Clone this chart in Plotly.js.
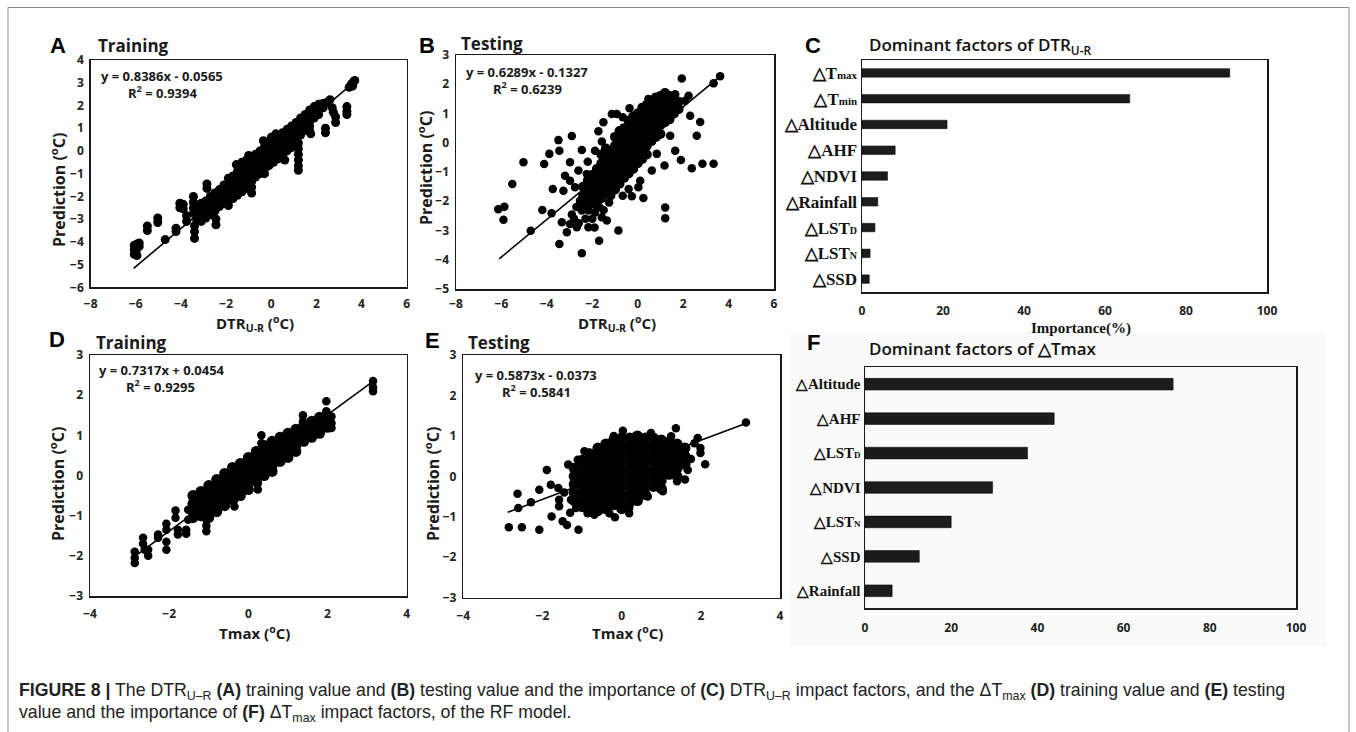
<!DOCTYPE html>
<html><head><meta charset="utf-8">
<script src="https://cdn.plot.ly/plotly-3.0.1.min.js"></script>
<style>html,body{margin:0;padding:0;background:#fff;} #chart{width:1356px;height:732px;}</style>
</head><body><div id="chart"></div>
<script>
// ---------------- DATA ----------------
// Panel A: DTR(U-R) training, columns [x, [y values observed at that x]]
const aCols = [
 [-6.07,[-4.15,-4.35,-4.55]],[-5.95,[-4.1,-4.3,-4.6]],[-5.85,[-4.05,-4.2]],
 [-5.49,[-3.3,-3.5]],[-5.03,[-2.95,-3.15]],[-4.7,[-3.9]],[-4.22,[-3.4,-3.55]],
 [-4.05,[-2.3,-2.5]],[-3.9,[-2.35,-2.55]],[-3.75,[-3.1,-2.85]],
 [-3.45,[-2.0,-2.25,-2.5,-2.75]],[-3.4,[-3.3,-3.55,-3.85]],[-3.3,[-2.5,-2.8,-3.05]],
 [-3.1,[-2.3,-2.6,-2.9,-3.1]],[-2.9,[-2.2,-2.45,-2.7,-2.95]],[-2.85,[-1.45,-1.65]],
 [-2.7,[-2.0,-2.3,-2.55,-2.8]],[-2.5,[-1.85,-2.1,-2.4,-2.65]],[-2.45,[-3.0,-3.25]],
 [-2.3,[-1.7,-1.95,-2.2,-2.45]],[-2.1,[-1.5,-1.8,-2.05,-2.3]],[-1.9,[-1.2,-1.5,-1.75,-2.0,-2.2,-2.4]],
 [-1.7,[-1.1,-1.35,-1.6,-1.85,-2.1]],[-1.55,[-0.6]],[-1.5,[-0.9,-1.2,-1.45,-1.7,-1.95]],
 [-1.3,[-0.5,-0.8,-1.05,-1.3,-1.6,-1.8]],[-1.1,[-0.4,-0.65,-0.9,-1.15,-1.4,-1.65]],[-1.0,[-0.2]],
 [-0.9,[-0.3,-0.55,-0.8,-1.05,-1.3]],[-0.87,[-1.35,-1.6,-1.85]],[-0.7,[-0.15,-0.4,-0.65,-0.9,-1.15]],
 [-0.5,[0.0,-0.25,-0.5,-0.75,-1.0]],[-0.35,[0.45]],[-0.3,[0.2,-0.05,-0.3,-0.55,-0.8,-1.0]],[-0.1,[0.35,0.1,-0.15,-0.4,-0.65]],
 [0.0,[0.6]],[0.1,[0.45,0.2,-0.05,-0.3,-0.5]],[0.2,[0.75]],[0.3,[0.6,0.35,0.1,-0.15,-0.35]],[0.5,[0.8,0.55,0.3,0.05,-0.2]],
 [0.6,[-0.4]],[0.7,[0.95,0.7,0.45,0.2,0.0]],[0.9,[1.1,0.85,0.6,0.35,0.15]],[1.1,[1.25,1.0,0.75,0.5]],
 [1.2,[0.35,0.1,-0.15,-0.4,-0.65,-0.85]],[1.3,[1.45,1.2,0.95,0.7]],[1.5,[1.6,1.35,1.1,0.9]],
 [1.7,[1.8,1.55,1.3,1.1,0.9]],[1.75,[0.75]],[1.9,[1.95,1.7,1.45]],[2.1,[2.05,1.85,1.6]],
 [2.3,[2.1,1.9]],[2.4,[1.0,0.8]],[2.5,[2.15]],[2.6,[2.25]],[2.7,[1.9]],[2.75,[1.7]],[2.85,[1.5,1.25]],
 [3.35,[1.95,1.75,1.6]],[3.45,[2.8]],[3.55,[2.95]],[3.6,[2.85]],[3.65,[3.05]],[3.7,[3.1]]
];
const aLineX = [-6.1, 3.65], aLineY = [-5.17, 3.0];

// Panel B: DTR(U-R) testing (scattered points + dense core columns)
const bPts = [
 [-6.14,-2.27],[-5.87,-2.19],[-5.91,-2.63],[-5.52,-1.41],[-5.03,-0.67],[-4.71,-3.01],[-4.2,-2.3],
 [-4.12,-0.73],[-3.89,-0.38],[-3.49,0.09],[-3.45,-0.27],[-2.9,0.23],[-2.46,-0.25],[-2.98,-0.67],
 [-3.2,-1.13],[-3.74,-1.58],[-3.79,-2.41],[-3.45,-3.46],[-2.46,-3.78],[-1.70,-3.35],[-0.85,-3.0],
 [-2.2,-0.65],[-1.73,0.39],[-1.51,0.70],[-1.14,0.98],[-0.92,0.98],[-0.66,0.87],[-0.36,1.18],
 [-0.26,0.53],[0.47,1.5],[1.94,2.2],[3.63,2.27],[3.34,2.03],[2.75,0.71],[2.6,0.24],[2.38,-0.87],
 [2.85,-0.72],[3.34,-0.72],[1.9,-0.59],[1.65,-0.27],[1.43,0.24],[1.18,-0.78],[1.21,-2.21],
 [1.21,-2.58],[0.25,-1.89],[-0.26,-1.83],[-0.66,-1.81],[-1.26,-2.04],[-1.36,-2.66],[-1.58,-2.55],
 [-2.17,-2.89],[-2.68,-2.89],[-2.98,-2.78],[-3.12,-3.06],[-3.34,-2.72],[-2.46,-2.32],[-2.17,-2.32],
 [-2.54,-1.98],[-2.02,-2.09],[-1.88,-2.38],[-2.76,-1.52],[-3.27,-1.64],[-2.98,-1.3],[-2.61,-0.95],
 [-2.24,-1.07],[-1.88,-0.27],[-1.58,0.04],[-1.36,-0.61],[0.77,0.3],[1.06,0.64],[0.84,-0.38],
 [0.62,-0.95],[0.11,-1.3],[0.03,-1.52],[-0.4,-1.58],[2.09,1.44],[2.24,1.61],[2.31,0.92],
 [1.65,1.66],[1.28,1.66],[-2.8,-2.6],[-2.6,-2.75],[-2.9,-2.45],[-2.3,-2.6],[-2.0,-2.6],[-1.9,-2.9],
 [-2.7,-2.2],[-2.4,-2.05],[-1.7,-2.2],[-1.5,-2.3]
];
const bCols = [
 [-2.4,[-1.5,-1.8,-2.1]],[-2.2,[-1.3,-1.6,-1.9,-2.2]],[-2.0,[-1.1,-1.4,-1.7,-2.0]],
 [-1.8,[-0.9,-1.2,-1.5,-1.8,-2.1]],[-1.6,[-0.4,-0.7,-1.0,-1.3,-1.6,-1.9]],
 [-1.4,[-0.2,-0.5,-0.8,-1.1,-1.4,-1.7]],[-1.2,[-0.3,-0.6,-0.9,-1.2,-1.5,-1.8]],
 [-1.0,[0.2,-0.1,-0.4,-0.7,-1.0,-1.3,-1.6]],[-0.8,[0.4,0.1,-0.2,-0.5,-0.8,-1.1,-1.4]],
 [-0.6,[0.5,0.3,0.0,-0.3,-0.6,-0.9,-1.2]],[-0.4,[0.75,0.45,0.15,-0.15,-0.45,-0.75,-1.05]],
 [-0.2,[0.9,0.6,0.3,0.0,-0.3,-0.6,-0.9]],[0.0,[1.0,0.8,0.5,0.2,-0.1,-0.4,-0.7]],
 [0.2,[1.2,0.95,0.65,0.35,0.05,-0.25,-0.55]],[0.4,[1.3,1.1,0.8,0.5,0.2,-0.1,-0.4]],
 [0.6,[1.4,1.25,0.95,0.65,0.35,0.05]],[0.8,[1.55,1.4,1.1,0.8,0.5,0.2]],
 [1.0,[1.6,1.5,1.2,0.9,0.6,0.3]],[1.2,[1.7,1.55,1.3,1.0,0.7]],[1.4,[1.6,1.35,1.1,0.8]],
 [1.6,[1.55,1.3,1.0]],[1.8,[1.4,1.15]]
];
const bLineX = [-6.1, 3.6], bLineY = [-3.97, 2.25];

// Panel C: dominant factors of DTR(U-R)
const cLabels = ["△T<span style='font-size:11px'>max</span>","△T<span style='font-size:11px'>min</span>","△Altitude","△AHF","△NDVI","△Rainfall","△LST<span style='font-size:10px'>D</span>","△LST<span style='font-size:10px'>N</span>","△SSD"];
const cValues = [90.8, 66.1, 21.0, 8.2, 6.3, 3.9, 3.2, 2.0, 1.8];

// Panel D: Tmax training (stacked clusters + dense band)
const dCols = [
 [-2.87,[-1.9,-2.05,-2.18]],[-2.66,[-1.55,-1.7]],[-2.62,[-1.85]],[-2.53,[-1.85,-2.0]],
 [-2.28,[-1.47,-1.55]],[-2.07,[-1.2,-1.35,-1.65,-1.85]],[-1.84,[-0.87,-1.05]],[-1.78,[-1.35,-1.47]],
 [-1.57,[-1.35,-1.45]],[-1.52,[-0.85,-1.1]],[-1.36,[-0.52,-0.7,-0.85]],[-1.14,[-0.44]],
 [-1.06,[-1.1,-1.25,-1.39]],[-0.35,[-0.6,-0.77]],[0.24,[-0.19,-0.35]],[0.33,[1.0,0.8]],
 [1.38,[1.5,1.35,1.2]],[1.97,[1.85,1.6,1.39]],[2.1,[1.47,1.3,1.18]],[3.15,[2.35,2.2,2.1]]
];
const dBand = [
 [-1.4,[-0.5,-0.7,-0.9,-1.05]],[-1.2,[-0.4,-0.6,-0.8,-1.0]],[-1.0,[-0.25,-0.45,-0.65,-0.85,-1.05]],
 [-0.8,[-0.1,-0.3,-0.5,-0.7,-0.9]],[-0.6,[0.05,-0.15,-0.35,-0.55,-0.75]],[-0.4,[0.2,0.0,-0.2,-0.4,-0.6]],
 [-0.2,[0.3,0.1,-0.1,-0.3,-0.5]],[0.0,[0.45,0.25,0.05,-0.15,-0.35]],[0.2,[0.6,0.4,0.2,0.0,-0.15]],
 [0.4,[0.75,0.55,0.35,0.15,0.0]],[0.6,[0.85,0.65,0.45,0.25,0.1]],[0.8,[0.95,0.75,0.55,0.35]],
 [1.0,[1.05,0.85,0.65,0.45]],[1.2,[1.15,0.95,0.75,0.6]],[1.4,[1.25,1.05,0.85]],
 [1.6,[1.35,1.15,0.95]],[1.8,[1.45,1.25,1.05]],[2.0,[1.4,1.2]]
];
const dLineX = [-2.85, 3.2], dLineY = [-2.0, 2.38];

// Panel E: Tmax testing (scattered points + dense core)
const ePts = [
 [-2.85,-1.26],[-2.52,-1.26],[-2.08,-1.32],[-1.09,-1.32],[-2.63,-0.43],[-2.61,-0.78],[-2.29,-0.64],
 [-2.08,-0.33],[-1.89,0.16],[-1.79,-0.21],[-1.6,-0.29],[-1.58,-0.58],[-1.58,-0.74],[-1.77,-0.99],
 [-1.49,-1.11],[-1.38,-1.2],[-1.35,0.29],[-1.11,0.41],[-0.94,0.62],[-0.82,0.59],[-0.69,-0.95],
 [-0.31,-0.91],[-0.17,-1.01],[0.19,-0.78],[0.19,-0.91],[0.03,1.13],[-0.2,1.0],[0.34,0.99],
 [0.74,1.07],[1.37,1.19],[1.92,0.95],[1.99,0.7],[1.99,0.58],[2.11,0.3],[1.75,0.43],[1.67,0.16],
 [1.6,-0.08],[1.4,-0.12],[1.04,-0.37],[3.14,1.33],[1.84,0.82],[1.25,0.99],[-1.2,-0.08],
 [-1.28,-0.58],[-1.15,-0.78],[-0.86,-0.91],[-0.77,-0.5],[0.66,-0.5],[0.99,-0.25],[-1.45,-0.4],[-1.3,-0.9]
];
const eCols = [
 [-1.2,[0.2,0.0,-0.2,-0.4,-0.6]],[-1.0,[0.4,0.2,0.0,-0.2,-0.4,-0.6,-0.75]],
 [-0.8,[0.55,0.35,0.15,-0.05,-0.25,-0.45,-0.65,-0.8]],[-0.6,[0.7,0.5,0.3,0.1,-0.1,-0.3,-0.5,-0.7,-0.85]],
 [-0.4,[0.8,0.6,0.4,0.2,0.0,-0.2,-0.4,-0.6,-0.8]],[-0.2,[0.9,0.7,0.5,0.3,0.1,-0.1,-0.3,-0.5,-0.7]],
 [0.0,[0.95,0.75,0.55,0.35,0.15,-0.05,-0.25,-0.45,-0.65,-0.8]],[0.2,[0.95,0.75,0.55,0.35,0.15,-0.05,-0.25,-0.45,-0.65]],
 [0.4,[1.0,0.8,0.6,0.4,0.2,0.0,-0.2,-0.4,-0.6]],[0.6,[0.95,0.75,0.55,0.35,0.15,-0.05,-0.25,-0.45]],
 [0.8,[0.95,0.75,0.55,0.35,0.15,-0.05,-0.25]],[1.0,[0.9,0.7,0.5,0.3,0.1,-0.1,-0.3]],
 [1.2,[0.85,0.65,0.45,0.25,0.05]],[1.4,[0.8,0.6,0.4,0.2,0.0]],[1.6,[0.7,0.5,0.3]]
];
const eLineX = [-2.88, 3.2], eLineY = [-0.89, 1.33];

// Panel F: dominant factors of ΔTmax
const fLabels = ["△Altitude","△AHF","△LST<span style='font-size:9px'>D</span>","△NDVI","△LST<span style='font-size:9px'>N</span>","△SSD","△Rainfall"];
const fValues = [71.5, 43.9, 37.7, 29.6, 20.0, 12.6, 6.3];

// Regression equations shown in A, B, D, E
const eqTexts = ["y = 0.8386x - 0.0565","y = 0.6289x - 0.1327","y = 0.7317x + 0.0454","y = 0.5873x - 0.0373"];
const r2Texts = ["0.9394","0.6239","0.9295","0.5841"];

// ---------------- helpers ----------------
function fromCols(cols){const x=[],y=[];cols.forEach(c=>c[1].forEach(v=>{x.push(c[0]);y.push(v);}));return {x,y};}
function fromPairs(p){return {x:p.map(d=>d[0]),y:p.map(d=>d[1])};}
const W=1356,H=732;
const PX=v=>v/W, PY=v=>1-v/H;

const A=fromCols(aCols), B1=fromPairs(bPts), B2=fromCols(bCols), D1=fromCols(dCols), D2=fromCols(dBand), E1=fromPairs(ePts), E2=fromCols(eCols);
const mk=(sz)=>({color:'#000',size:sz,line:{width:0}});
const pts=(o,sz,xa,ya)=>({x:o.x,y:o.y,type:'scatter',mode:'markers',marker:mk(sz),xaxis:xa,yaxis:ya});
const ln=(x,y,xa,ya)=>({x:x,y:y,type:'scatter',mode:'lines',line:{color:'#000',width:1.6},xaxis:xa,yaxis:ya});
const traces=[
 pts(A,9,'x','y'), ln(aLineX,aLineY,'x','y'),
 pts(B1,8.5,'x2','y2'), pts(B2,10,'x2','y2'), ln(bLineX,bLineY,'x2','y2'),
 {x:cValues,y:cLabels,type:'bar',orientation:'h',marker:{color:'#1c1c1c',line:{color:'#000',width:0.5}},width:0.33,xaxis:'x3',yaxis:'y3'},
 pts(D1,8.5,'x4','y4'), pts(D2,11,'x4','y4'), ln(dLineX,dLineY,'x4','y4'),
 pts(E1,8.5,'x5','y5'), pts(E2,11,'x5','y5'), ln(eLineX,eLineY,'x5','y5'),
 {x:fValues,y:fLabels,type:'bar',orientation:'h',marker:{color:'#1c1c1c',line:{color:'#000',width:0.5}},width:0.34,xaxis:'x6',yaxis:'y6'}
];

const tf={family:'Open Sans, sans-serif',size:12,color:'#222',weight:700};
const catf={family:'Liberation Serif, Times New Roman, serif',size:17,color:'#111',weight:700};
function ax(dom,anchor,range,dtick,extra){return Object.assign({domain:dom,anchor:anchor,range:range,dtick:dtick,tick0:range[0],
  showgrid:false,zeroline:false,showline:true,mirror:true,linecolor:'#1a1a1a',linewidth:1.5,ticks:'',tickfont:tf,fixedrange:true},extra||{});}

const layout={
 width:W,height:H,margin:{l:0,r:0,t:0,b:0},paper_bgcolor:'#fff',plot_bgcolor:'rgba(0,0,0,0)',showlegend:false,
 xaxis: ax([PX(90.7),PX(406.7)],'y',[-8,6],2,{ticklabelstandoff:5}),
 yaxis: ax([PY(287.3),PY(60)],'x',[-6,4],1,{ticklabelstandoff:3}),
 xaxis2:ax([PX(456),PX(774)],'y2',[-8,6],2,{ticklabelstandoff:3}),
 yaxis2:ax([PY(289),PY(55)],'x2',[-5,3],1,{ticklabelstandoff:3}),
 xaxis3:ax([PX(862),PX(1267)],'y3',[0,100],20,{ticklabelstandoff:7}),
 yaxis3:{domain:[PY(292),PY(60)],anchor:'x3',type:'category',autorange:'reversed',showgrid:false,zeroline:false,showline:true,mirror:true,
   linecolor:'#1a1a1a',linewidth:1.5,ticks:'',tickfont:catf,fixedrange:true},
 xaxis4:ax([PX(90),PX(406.7)],'y4',[-4,4],2,{ticklabelstandoff:6}),
 yaxis4:ax([PY(596),PY(355)],'x4',[-3,3],1,{ticklabelstandoff:3}),
 xaxis5:ax([PX(463.3),PX(780)],'y5',[-4,4],2,{ticklabelstandoff:6}),
 yaxis5:ax([PY(597.7),PY(355)],'x5',[-3,3],1,{ticklabelstandoff:3}),
 xaxis6:ax([PX(865),PX(1296)],'y6',[0,100],20,{ticklabelstandoff:8}),
 yaxis6:{domain:[PY(608),PY(367)],anchor:'x6',type:'category',autorange:'reversed',showgrid:false,zeroline:false,showline:true,mirror:true,
   linecolor:'#1a1a1a',linewidth:1.5,ticks:'',tickfont:Object.assign({},catf,{size:15}),fixedrange:true},
 shapes:[
  {type:'rect',xref:'paper',yref:'paper',x0:PX(790),x1:PX(1326),y0:PY(646),y1:PY(332),fillcolor:'#fafafa',line:{width:0},layer:'below'},
  {type:'rect',xref:'paper',yref:'paper',x0:PX(8),x1:PX(1349),y0:-0.1,y1:PY(7.5),line:{color:'#8a8a8a',width:1},fillcolor:'rgba(0,0,0,0)'}
 ],
 annotations:[]
};

const sansB={family:'Open Sans, sans-serif',color:'#1a1a1a',weight:700};
function note(text,x,y,font,opt){layout.annotations.push(Object.assign({text:text,x:PX(x),y:PY(y),xref:'paper',yref:'paper',showarrow:false,
  xanchor:'left',yanchor:'middle',font:font},opt||{}));}
const letterF={family:'Liberation Sans, Arial, sans-serif',size:22,color:'#000',weight:700};
note('A',58,45,letterF,{xanchor:'center'}); note('B',427,45,letterF,{xanchor:'center'}); note('C',813,45,letterF,{xanchor:'center'});
note('D',57,339,letterF,{xanchor:'center'}); note('E',433,340,letterF,{xanchor:'center'}); note('F',813,342,letterF,{xanchor:'center'});
const ttl=Object.assign({},sansB,{size:17});
note('Training',96,45,ttl); note('Testing',459,43,ttl); note('Training',94,342,ttl); note('Testing',466,342,ttl);
const dom={family:'Open Sans, sans-serif',size:17,color:'#111',weight:600};
note('Dominant factors of DTR<sub>U-R</sub>',867,45,dom); note('Dominant factors of △Tmax',867,348,dom);
// equation + R² as one two-line block (second line indented)
const eq=Object.assign({},sansB,{size:13});
const ind='\u00A0'.repeat(8);
const eqPos=[[99,84],[464,80],[97,378],[473,383]];
eqPos.forEach((p,i)=>note(eqTexts[i]+'<br>'+ind+'R<sup>2</sup> = '+r2Texts[i],p[0],p[1],eq,{align:'left'}));
const axt=Object.assign({},sansB,{size:15});
const axtY=Object.assign({},sansB,{size:16});
note('Prediction (<sup>o</sup>C)',58,190,axtY,{xanchor:'center',textangle:-90});
note('Prediction (<sup>o</sup>C)',425,168,axtY,{xanchor:'center',textangle:-90});
note('Prediction (<sup>o</sup>C)',57,484,axtY,{xanchor:'center',textangle:-90});
note('Prediction (<sup>o</sup>C)',432,484,axtY,{xanchor:'center',textangle:-90});
note('DTR<sub>U-R</sub> (<sup>o</sup>C)',255,323,axt,{xanchor:'center'});
note('DTR<sub>U-R</sub> (<sup>o</sup>C)',617,323,axt,{xanchor:'center'});
note('Tmax (<sup>o</sup>C)',254,632,axt,{xanchor:'center'});
note('Tmax (<sup>o</sup>C)',627,632,axt,{xanchor:'center'});
note('Importance(%)',1081,328,{family:'Liberation Serif, Times New Roman, serif',size:15,color:'#111',weight:700},{xanchor:'center'});
const cap={family:'Liberation Sans, Arial, sans-serif',size:17.7,color:'#222'};
note('<b>FIGURE 8 |</b> The DTR<sub>U–R</sub> <b>(A)</b> training value and <b>(B)</b> testing value and the importance of <b>(C)</b> DTR<sub>U–R</sub> impact factors, and the ΔT<sub>max</sub> <b>(D)</b> training value and <b>(E)</b> testing',17,691,cap);
note('value and the importance of <b>(F)</b> ΔT<sub>max</sub> impact factors, of the RF model.',17,713,cap);

Plotly.newPlot('chart',traces,layout,{staticPlot:true,displayModeBar:false});
</script></body></html>
